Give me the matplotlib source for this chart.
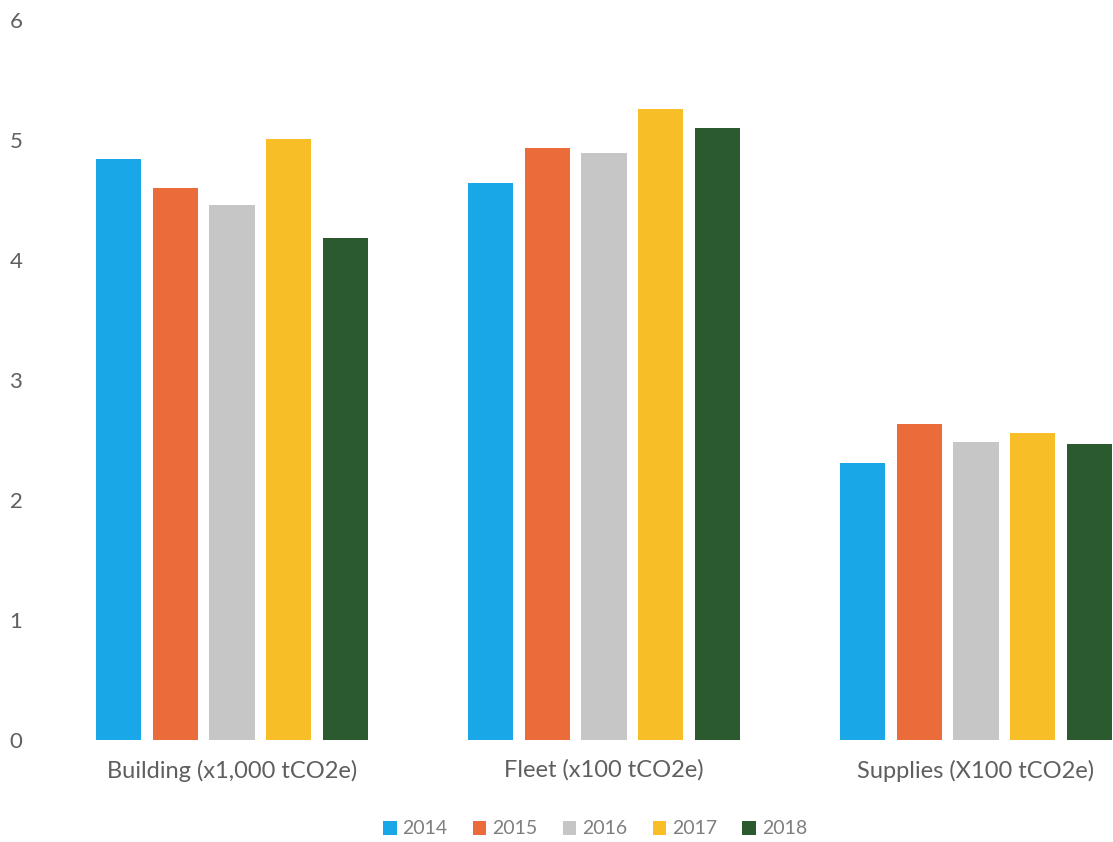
import numpy as np
import matplotlib
matplotlib.use("Agg")
import matplotlib.pyplot as plt

# data
categories = ["Building (x1,000 tCO2e)", "Fleet (x100 tCO2e)", "Supplies (X100 tCO2e)"]
years = ["2014", "2015", "2016", "2017", "2018"]
values = {
    "2014": [4.84, 4.64, 2.31],
    "2015": [4.60, 4.93, 2.63],
    "2016": [4.46, 4.89, 2.48],
    "2017": [5.01, 5.26, 2.56],
    "2018": [4.18, 5.10, 2.47],
}
colors = ["#1AA7E8", "#EC6B3A", "#C6C6C6", "#F7BE27", "#2A5A2E"]

plt.rcParams["font.family"] = ["Lato", "DejaVu Sans"]

fig = plt.figure(figsize=(11.13, 8.42), dpi=100)
ax = fig.add_axes([46 / 1113, 1 - 740 / 842, 3 * 372 / 1113, 720 / 842])

x = np.arange(len(categories))
pitch = 0.153
width = 0.121
for i, yr in enumerate(years):
    ax.bar(x + (i - 2) * pitch, values[yr], width, color=colors[i], label=yr)

ax.set_xlim(-0.5, 2.5)
ax.set_ylim(0, 6)
ax.set_yticks(range(7))
ax.set_xticks(x)
ax.set_xticklabels(categories)

for s in ax.spines.values():
    s.set_visible(False)
ax.tick_params(axis="both", length=0, colors="#5f5f5f")
ax.tick_params(axis="y", pad=17, labelsize=16)
ax.tick_params(axis="x", pad=14, labelsize=17)

fig.legend(loc="center", bbox_to_anchor=(595 / 1113, 1 - 829 / 842), ncol=5,
           frameon=False, fontsize=14, handlelength=0.7, handleheight=0.7,
           handletextpad=0.3, columnspacing=1.3, labelcolor="#7f7f7f")

fig.savefig("out.png", dpi=100)
